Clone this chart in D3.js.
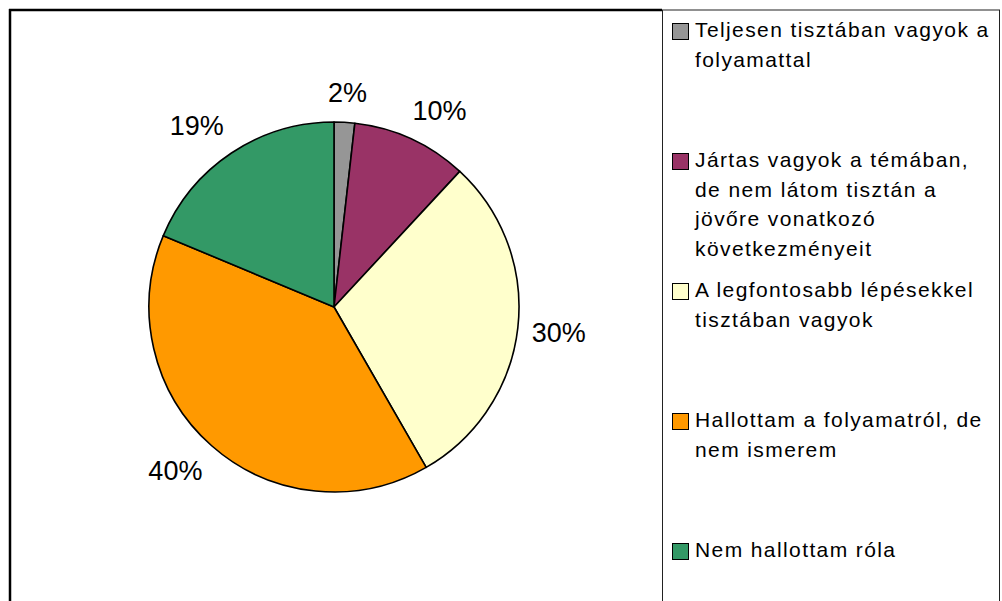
<!DOCTYPE html>
<html>
<head>
<meta charset="utf-8">
<script src="https://cdn.jsdelivr.net/npm/d3@7"></script>
<style>
  html, body { margin: 0; padding: 0; background: #fff; }
  svg { display: block; }
</style>
</head>
<body>
<svg id="chart" width="1002" height="601"></svg>
<script>
// ---- data ----
const categories = [
  "Teljesen tisztában vagyok a\nfolyamattal",
  "Jártas vagyok a témában,\nde nem látom tisztán a\njövőre vonatkozó\nkövetkezményeit",
  "A legfontosabb lépésekkel\ntisztában vagyok",
  "Hallottam a folyamatról, de\nnem ismerem",
  "Nem hallottam róla"
];
const values = [1.8, 10.1, 29.8, 39.6, 18.7];
const colors = ["#969696", "#993366", "#FFFFCC", "#FF9900", "#339966"];

// ---- layout ----
const W = 1002, H = 601;
const cx = 334, cy = 307, r = 185;
const svg = d3.select("#chart");

// frame
svg.append("line").attr("x1", 10).attr("y1", 9).attr("x2", 10).attr("y2", H + 5)
  .attr("stroke", "#000").attr("stroke-width", 2.5);
svg.append("line").attr("x1", 9).attr("y1", 10).attr("x2", 662).attr("y2", 10)
  .attr("stroke", "#000").attr("stroke-width", 2.5);
// legend box
svg.append("rect").attr("x", 662.5).attr("y", 10).attr("width", 337).attr("height", H + 20)
  .attr("fill", "#fff").attr("stroke", "#222").attr("stroke-width", 1);

const total = d3.sum(values);
const data = categories.map((c, i) => ({ name: c, value: values[i], color: colors[i] }));
const pie = d3.pie().sort(null).value(d => d.value);
const arcs = pie(data);
const arc = d3.arc().innerRadius(0).outerRadius(r);

const g = svg.append("g").attr("transform", `translate(${cx},${cy})`);
g.selectAll("path.slice").data(arcs).join("path")
  .attr("class", "slice")
  .attr("d", arc)
  .attr("fill", d => d.data.color)
  .attr("stroke", "#000")
  .attr("stroke-width", 1.6)
  .attr("stroke-linejoin", "round");

// percentage labels (outside end)
const labelFont = 27;
const fmt = v => Math.round(v / total * 100) + "%";
const clamp = v => Math.max(-1, Math.min(1, v));
const lbl = g.selectAll("text.pct").data(arcs).join("text")
  .attr("class", "pct")
  .attr("font-family", "'Liberation Sans', Arial, sans-serif")
  .attr("font-size", labelFont)
  .attr("fill", "#000")
  .attr("text-anchor", "middle")
  .attr("dominant-baseline", "central")
  .text(d => fmt(d.data.value));
lbl.each(function(d) {
  const bb = this.getBBox();
  const a = (d.startAngle + d.endAngle) / 2;
  const s = Math.sin(a), c = -Math.cos(a);
  const R = r + 14;
  const x = s * R + clamp(2 * s) * bb.width / 2;
  const y = c * R + clamp(2 * c) * 15;
  d3.select(this).attr("x", x).attr("y", y);
});

// legend
const legendY = d3.scalePoint().domain(categories).range([37, 557]);
const lg = svg.append("g");
const items = lg.selectAll("g.item").data(data).join("g").attr("class", "item")
  .attr("transform", d => `translate(0,${legendY(d.name)})`);
items.append("rect")
  .attr("x", 672.5).attr("y", -13.5).attr("width", 16).attr("height", 16)
  .attr("fill", d => d.color).attr("stroke", "#000").attr("stroke-width", 1);
items.append("text")
  .attr("font-family", "'Liberation Sans', Arial, sans-serif")
  .attr("font-size", 21)
  .attr("letter-spacing", 1.4)
  .attr("fill", "#000")
  .selectAll("tspan").data(d => d.name.split("\n")).join("tspan")
  .attr("x", 695)
  .attr("y", (t, i) => i * 29.7)
  .text(t => t);
</script>
</body>
</html>
